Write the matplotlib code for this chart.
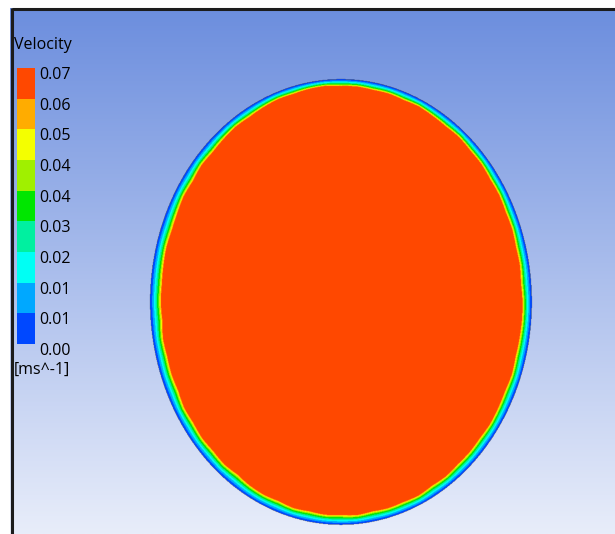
"""Velocity contour over a pipe cross-section, CFD-post style."""
import numpy as np
import matplotlib
matplotlib.use("Agg")
import matplotlib.pyplot as plt
from matplotlib.cm import ScalarMappable
from matplotlib.colors import ListedColormap, BoundaryNorm
from matplotlib.transforms import ScaledTranslation

plt.rcParams["font.family"] = ["Open Sans", "DejaVu Sans"]

W, H = 615, 534

# legend: 9 bands between 0 and the max velocity [m s^-1]
levels = np.linspace(0.0, 0.066, 10)
tick_labels = ["0.00", "0.01", "0.01", "0.02", "0.03",
               "0.04", "0.04", "0.05", "0.06", "0.07"]
band_colors = ["#0048ff", "#00a8ff", "#00fff4", "#00f0a0", "#00e600",
               "#a0f000", "#f4ff00", "#ffac00", "#ff4800"]

# pipe wall (ellipse in pixel coordinates)
center = (341.0, 302.0)
semi_axes = (191.0, 223.0)

# near-wall velocity profile: distance from wall [px] -> velocity
wall_dist = [0.0, 1.5, 3.0, 4.5, 6.0, 7.5, 8.6, 9.3, 9.9, 10.5]
wall_vel = [0.0, 0.006, 0.012, 0.020, 0.028, 0.036, 0.044, 0.052, 0.060, 0.065]

# local boundary-layer thickness [px], every 5 deg (0 = right, 90 = top)
bl_angle = np.arange(0, 360, 5)
bl_thick = [10.0, 11.0, 10.0, 10.5, 9.5, 10.0, 9.0, 9.5, 8.5, 9.0,
            8.0, 9.0, 8.5, 7.5, 8.5, 7.5, 8.0, 7.0, 7.5, 6.5,
            7.0, 8.0, 7.5, 8.5, 9.5, 9.0, 10.0, 11.0, 10.0, 11.5,
            10.5, 11.5, 12.0, 11.0, 11.5, 12.0, 11.5, 12.5, 11.0, 12.0,
            11.5, 12.5, 11.0, 12.0, 11.0, 12.0, 11.0, 12.5, 11.0, 10.5,
            11.5, 10.0, 11.0, 10.0, 10.5, 9.5, 11.0, 10.0, 10.5, 9.5,
            11.0, 10.0, 11.0, 10.5, 11.0, 10.0, 10.5, 11.0, 10.0, 11.0,
            10.5, 10.0]

# background gradient, top -> bottom
bg_top = (108, 142, 222)
bg_bottom = (232, 237, 250)

fig = plt.figure(figsize=(W / 100, H / 100), dpi=100)
ax = fig.add_axes([0, 0, 1, 1])
ax.set_xlim(0, W)
ax.set_ylim(H, 0)
ax.axis("off")

x0, y0 = 10, 8
t = np.linspace(0, 1, 256)[:, None]
grad = (np.array(bg_top)[None, :] * (1 - t) + np.array(bg_bottom)[None, :] * t) / 255
ax.imshow(grad[:, None, :], extent=[x0, W, H, y0], aspect="auto", zorder=0)

# velocity field on a 2x grid
xs = np.linspace(x0, W, (W - x0) * 2)
ys = np.linspace(y0, H, (H - y0) * 2)
X, Y = np.meshgrid(xs, ys)
a, b = semi_axes
u = (X - center[0]) / a
v = (Y - center[1]) / b
r = np.hypot(u, v)
th = np.arctan2(-v, u)
wall_r = np.hypot(a * np.cos(th), b * np.sin(th))
dist = (1 - r) * wall_r
ang = np.degrees(th) % 360
thick = np.interp(ang, np.append(bl_angle, 360), np.append(bl_thick, bl_thick[0]))
vel = np.interp(dist * wall_dist[-1] / thick, wall_dist, wall_vel)
vel = np.ma.masked_where(r > 1, vel)

cmap = ListedColormap(band_colors)
cmap.set_bad((0, 0, 0, 0))
norm = BoundaryNorm(levels, cmap.N)
ax.imshow(vel, extent=[x0, W, H, y0], cmap=cmap, norm=norm, aspect="auto",
          interpolation="antialiased", interpolation_stage="rgba", zorder=1)

# frame
ax.plot([x0 + 1.5, W], [y0 + 1, y0 + 1], color="#1c1c1c", lw=2.2,
        solid_capstyle="butt", zorder=3)
ax.plot([x0 + 1.5, x0 + 1.5], [y0, H], color="#1c1c1c", lw=2.2,
        solid_capstyle="butt", zorder=3)

# legend
ax.text(14, 45, "Velocity", fontsize=11.5, va="center", ha="left", zorder=4)
ax.text(14, 370, "[ms^-1]", fontsize=11.5, va="center", ha="left", zorder=4)

cax = fig.add_axes([17 / W, 1 - 344 / H, 18 / W, 276 / H])
cbar = fig.colorbar(ScalarMappable(norm=norm, cmap=cmap), cax=cax, ticks=levels)
cbar.set_ticklabels(tick_labels)
cbar.outline.set_visible(False)
cax.tick_params(length=0, pad=3, labelsize=11.5)
shift = ScaledTranslation(0, -5 / 100, fig.dpi_scale_trans)
for lbl in cax.get_yticklabels():
    lbl.set_transform(lbl.get_transform() + shift)

fig.savefig("out.png", dpi=100, facecolor="white")
